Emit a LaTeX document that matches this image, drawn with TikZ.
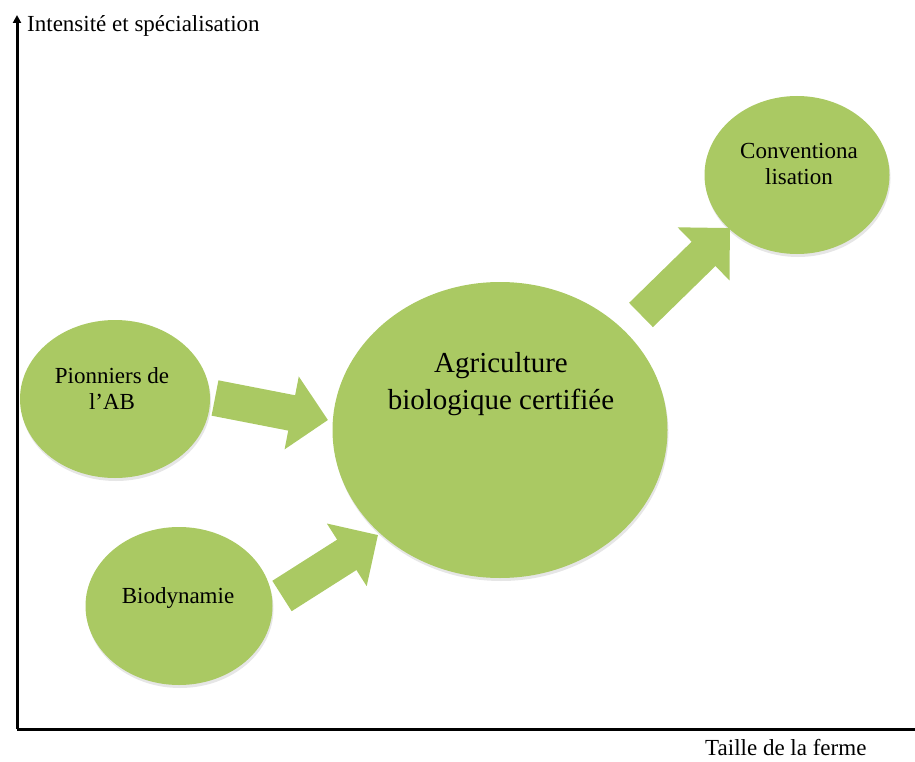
\documentclass[tikz,border=0pt]{standalone}
\usepackage{fontspec}
\setmainfont{Liberation Serif}
\usetikzlibrary{arrows.meta,shadows,shapes.geometric}
\definecolor{blobgreen}{RGB}{170,201,99}
\tikzset{
  blob/.style={ellipse, fill=blobgreen, draw=none, inner sep=0pt,
    drop shadow={opacity=0.2, shadow xshift=1pt, shadow yshift=-3pt}},
  lbl/.style={align=center, font=\fontsize{23}{26}\selectfont, inner sep=0pt},
  biglbl/.style={align=center, font=\fontsize{29}{37}\selectfont, inner sep=0pt},
  axislbl/.style={font=\fontsize{23}{26}\selectfont, inner sep=0pt},
  axis/.style={line width=3pt, black},
  blockarrow/.style={line width=36pt, draw=blobgreen,
    -{Triangle[length=37pt, width=72pt]}}
}
\begin{document}
\begin{tikzpicture}[x=1pt,y=-1pt]
\useasboundingbox (0,0) rectangle (915,762);
% axes
\coordinate (o) at (17,729);
\coordinate (ytop) at (17,15);
\coordinate (xend) at (915,729);
\draw[axis, -{Triangle[length=8pt,width=8pt]}] (o) -- (ytop);
\draw[axis] (o) -- (xend);
\node[axislbl, anchor=base west] (ylab) at (27,32) {Intensité et spécialisation};
\node[axislbl, anchor=base west] (xlab) at (705,755) {Taille de la ferme};
% ellipses
\node[blob, minimum width=190pt, minimum height=158pt] (pio) at (115,399) {};
\node[blob, minimum width=187pt, minimum height=158pt] (bio) at (179,606) {};
\node[blob, minimum width=335pt, minimum height=296pt] (ab) at (500,430) {};
\node[blob, minimum width=185pt, minimum height=158pt] (conv) at (797,175) {};
% labels
\node[lbl] (piot) at (112,389) {Pionniers de\\l’AB};
\node[lbl] (biot) at (178,598) {Biodynamie};
\node[biglbl] (abt) at (501,384) {Agriculture\\biologique certifiée};
\node[lbl] (convt) at (799,164) {Conventiona\\lisation};
% block arrows
\coordinate (a1s) at (215,398);
\coordinate (a1e) at (328,420);
\coordinate (a2s) at (282,596);
\coordinate (a2e) at (378,535);
\coordinate (a3s) at (641,315);
\coordinate (a3e) at (730,228);
\draw[blockarrow] (a1s) -- (a1e);
\draw[blockarrow] (a2s) -- (a2e);
\draw[blockarrow, line width=34pt] (a3s) -- (a3e);
\end{tikzpicture}
\end{document}
